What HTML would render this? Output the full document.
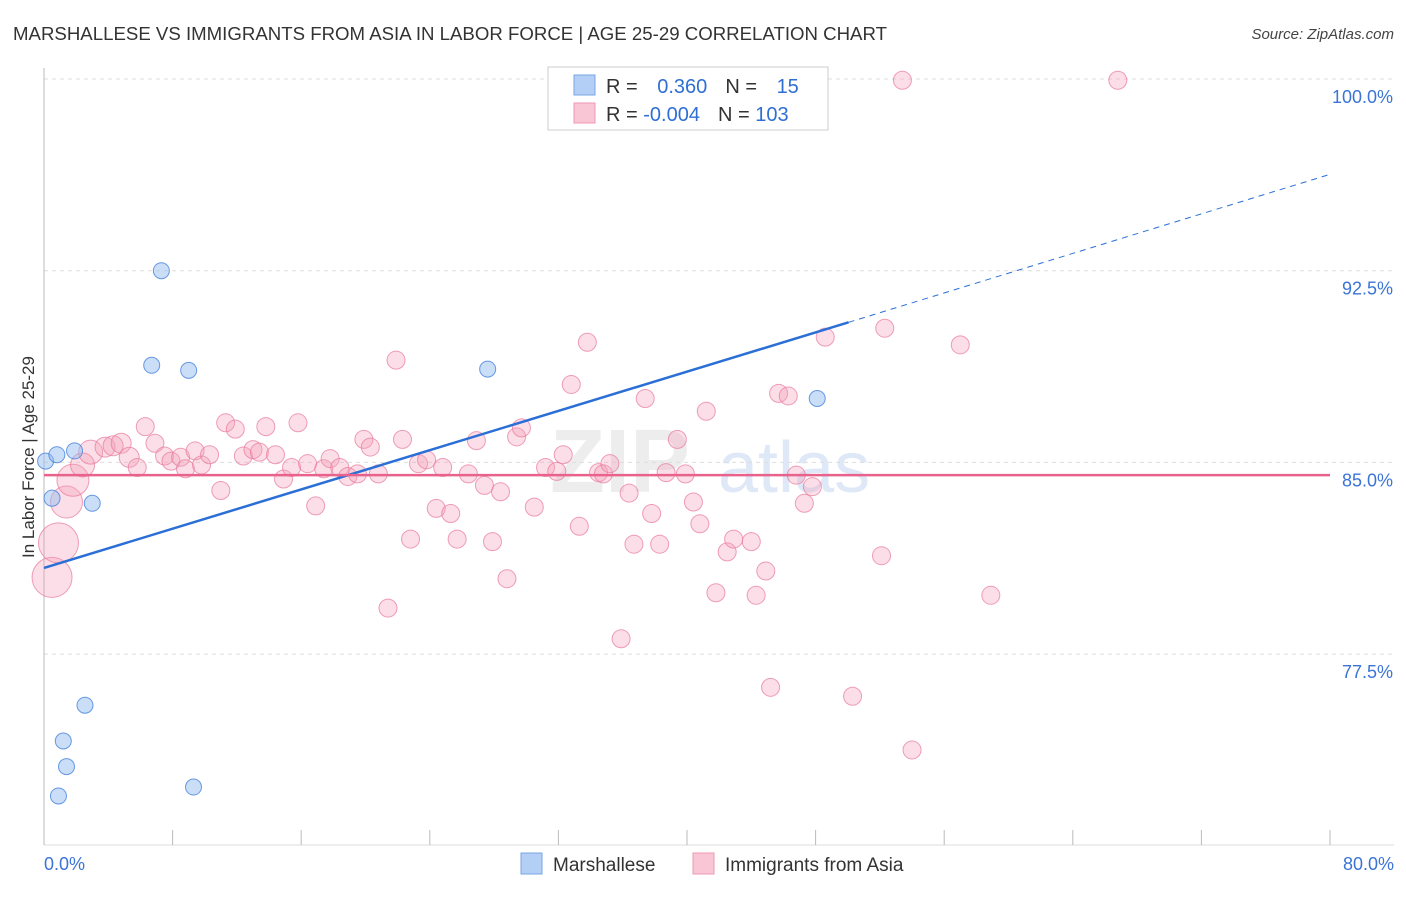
<!DOCTYPE html>
<html><head><meta charset="utf-8"><style>
body{margin:0;background:#fff;font-family:"Liberation Sans",sans-serif}
svg text{font-family:"Liberation Sans",sans-serif}
</style></head><body>
<svg id="chart" width="1406" height="892" xmlns="http://www.w3.org/2000/svg">
<text x="13" y="40" font-size="18" fill="#333" textLength="874" lengthAdjust="spacingAndGlyphs">MARSHALLESE VS IMMIGRANTS FROM ASIA IN LABOR FORCE | AGE 25-29 CORRELATION CHART</text>
<text x="1394" y="39" font-size="15" fill="#444" text-anchor="end" font-style="italic">Source: ZipAtlas.com</text>
<text transform="translate(34,457) rotate(-90)" font-size="17" fill="#333" text-anchor="middle">In Labor Force | Age 25-29</text>
<g opacity="0.25">
<text x="550" y="492" font-size="90" fill="#b9b9b9" font-family="Liberation Serif" font-weight="bold">ZIP</text>
<text x="718" y="492" font-size="72" fill="#7fa7e3">atlas</text></g>
<g id="grid"></g><g id="axes"></g><g id="marks"></g>
<g>
<rect x="548" y="67" width="280" height="63" fill="#fff" stroke="#ccc"/>
<rect x="574" y="75" width="21" height="20" fill="#b3cff5" stroke="#7aa6e3"/>
<rect x="574" y="103" width="21" height="20" fill="#f9c6d5" stroke="#ee98b3"/>
<text x="606" y="93" font-size="20" fill="#333">R = <tspan fill="#2f6fd4" dx="14">0.360</tspan><tspan dx="18" fill="#333">N = </tspan><tspan fill="#2f6fd4" dx="14">15</tspan></text>
<text x="606" y="121" font-size="20" fill="#333">R = <tspan fill="#2f6fd4">-0.004</tspan><tspan dx="18" fill="#333">N = </tspan><tspan fill="#2f6fd4">103</tspan></text>
</g>
<g>
<rect x="521" y="853" width="21" height="21" fill="#b3cff5" stroke="#7aa6e3"/>
<text x="553" y="871" font-size="19" fill="#333">Marshallese</text>
<rect x="693" y="853" width="21" height="21" fill="#f9c6d5" stroke="#ee98b3"/>
<text x="725" y="871" font-size="19" fill="#333">Immigrants from Asia</text>
</g>
</svg>
<script>
const yTicks=[77.5,85,92.5,100];
const yTickLabels=["77.5%","85.0%","92.5%","100.0%"];
const xTicks=[0,8,16,24,32,40,48,56,64,72,80];
const blueX=[0.1,0.8,1.9,0.5,3.0,7.3,6.7,9.0,27.6,48.1,2.55,1.2,1.4,0.9,9.3];
const blueY=[85.05,85.3,85.45,83.6,83.4,92.5,88.8,88.6,88.65,87.5,75.5,74.1,73.1,71.95,72.3];
const pinkX=[0.5,0.9,1.4,1.8,2.4,2.9,3.8,4.3,4.8,5.3,5.8,6.3,6.9,7.5,7.9,8.5,8.8,9.4,9.8,10.3,11.0,11.3,11.9,12.4,13.0,13.4,13.8,14.4,14.9,15.4,15.8,16.4,16.9,17.4,17.8,18.4,18.9,19.5,19.9,20.3,20.8,21.4,21.9,22.3,22.8,23.3,23.8,24.4,24.8,25.3,25.7,26.4,26.9,27.4,27.9,28.4,28.8,29.4,29.7,30.5,31.2,31.9,32.3,32.8,33.3,33.8,34.5,34.8,35.2,35.9,36.4,36.7,37.4,37.8,38.3,38.7,39.4,39.9,40.4,40.8,41.2,41.8,42.5,42.9,44.0,44.3,44.9,45.2,45.7,46.3,46.8,47.3,47.8,48.6,50.3,52.1,52.3,53.4,54.0,57.0,58.9,66.8];
const pinkY=[80.5,81.85,83.45,84.3,84.9,85.4,85.6,85.65,85.75,85.2,84.8,86.4,85.75,85.25,85.05,85.2,84.75,85.45,84.9,85.3,83.9,86.55,86.3,85.25,85.5,85.4,86.4,85.3,84.35,84.8,86.55,84.95,83.3,84.75,85.15,84.8,84.45,84.55,85.9,85.6,84.55,79.3,89.0,85.9,82.0,84.95,85.1,83.2,84.8,83.0,82.0,84.55,85.85,84.1,81.9,83.85,80.45,86.0,86.35,83.25,84.8,84.65,85.3,88.05,82.5,89.7,84.6,84.55,84.95,78.1,83.8,81.8,87.5,83.0,81.8,84.6,85.9,84.55,83.45,82.6,87.0,79.9,81.5,82.0,81.9,79.8,80.75,76.2,87.7,87.6,84.5,83.4,84.05,89.9,75.85,81.35,90.25,99.95,73.75,89.6,79.8,99.95];
const pinkSize=[20,20,16,16,12,12,10,10,10,10,9];
const blueTrend=[[0,80.87],[50.05,90.48],[80,96.27]];
const pinkTrend=[[0,84.5],[80,84.5]];
const X0=44,X1=1330,Y0=79,PPY=25.56;
const sx=v=>X0+(X1-X0)*v/80, sy=v=>Y0+(100-v)*PPY;
const NS="http://www.w3.org/2000/svg";
function mk(p,t,a){const e=document.createElementNS(NS,t);for(const k in a)e.setAttribute(k,a[k]);p.appendChild(e);return e;}
const grid=document.getElementById('grid'),axes=document.getElementById('axes'),marks=document.getElementById('marks');
yTicks.forEach((t,i)=>{
 const l=mk(grid,'line',{x1:44,x2:1394,y1:sy(t),y2:sy(t),stroke:'#ddd','stroke-dasharray':'4 4'});
 
 
 const tx=mk(axes,'text',{x:1393,y:sy(t)+24,'font-size':18,fill:'#3b74d6','text-anchor':'end'});
 tx.textContent=yTickLabels[i];
 
 
});
const ya=mk(axes,'line',{x1:44,x2:44,y1:68,y2:845,stroke:'#bbb'});


const xa=mk(axes,'line',{x1:44,x2:1394,y1:845,y2:845,stroke:'#ddd'});


xTicks.forEach(t=>{const l=mk(axes,'line',{x1:sx(t),x2:sx(t),y1:830,y2:845,stroke:'#bbb'});
 
 });
[[0,'0.0%','start',44],[80,'80.0%','end',1394]].forEach(d=>{const tx=mk(axes,'text',{x:d[3],y:870,'font-size':18,fill:'#3b74d6','text-anchor':d[2]});tx.textContent=d[1];
 
 });
pinkX.forEach((v,i)=>{const c=mk(marks,'circle',{cx:sx(v),cy:sy(pinkY[i]),r:pinkSize[i]||9,fill:'rgba(244,160,186,0.35)',stroke:'rgba(232,120,155,0.7)','stroke-width':1});
 
 });
blueX.forEach((v,i)=>{const c=mk(marks,'circle',{cx:sx(v),cy:sy(blueY[i]),r:8,fill:'rgba(150,190,240,0.5)',stroke:'rgba(70,130,220,0.8)','stroke-width':1});
 
 });
const bt=mk(marks,'line',{x1:sx(blueTrend[0][0]),y1:sy(blueTrend[0][1]),x2:sx(blueTrend[1][0]),y2:sy(blueTrend[1][1]),stroke:'#2b6fd6','stroke-width':2.5});


const bd=mk(marks,'line',{x1:sx(blueTrend[1][0]),y1:sy(blueTrend[1][1]),x2:sx(blueTrend[2][0]),y2:sy(blueTrend[2][1]),stroke:'#2b6fd6','stroke-width':1,'stroke-dasharray':'6 5'});


const pt=mk(marks,'line',{x1:sx(pinkTrend[0][0]),y1:sy(pinkTrend[0][1]),x2:sx(pinkTrend[1][0]),y2:sy(pinkTrend[1][1]),stroke:'#e8628c','stroke-width':2.5});


</script>
</body></html>
